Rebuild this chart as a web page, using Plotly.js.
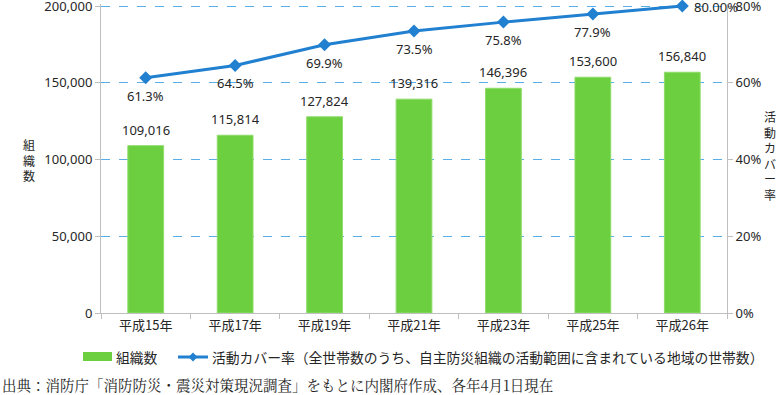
<!DOCTYPE html>
<html><head><meta charset="utf-8">
<script src="https://cdn.plot.ly/plotly-3.0.1.min.js"></script>
<style>html,body{margin:0;padding:0;background:#fff}#c{width:780px;height:395px}</style>
</head><body><div id="c"></div>
<script>
const categories = ['平成15年','平成17年','平成19年','平成21年','平成23年','平成25年','平成26年'];
const orgCounts = [109016, 115814, 127824, 139316, 146396, 153600, 156840];
const coverRate = [61.3, 64.5, 69.9, 73.5, 75.8, 77.9, 80.0];
const coverLabels = ['61.3%','64.5%','69.9%','73.5%','75.8%','77.9%','80.00%'];
const leftTickVals = [0, 50000, 100000, 150000, 200000];
const leftTickText = ['0','50,000','100,000','150,000','200,000'];
const rightTickVals = [0, 20, 40, 60, 80];
const rightTickText = ['0%','20%','40%','60%','80%'];
const legendBar = '組織数';
const legendLine = '活動カバー率（全世帯数のうち、自主防災組織の活動範囲に含まれている地域の世帯数）';
const leftTitle = '組<br>織<br>数';
const rightTitle = '活<br>動<br>カ<br>バ<br>ー<br>率';
const sourceText = '出典：消防庁「消防防災・震災対策現況調査」をもとに内閣府作成、各年4月1日現在';

const numFont = 'Noto Sans, Noto Sans CJK JP, sans-serif';
const cjkFont = 'Noto Sans CJK JP, sans-serif';
const txt = '#262626';
const barColor = '#6ccf40';
const lineColor = '#2180d0';

const L = 101, R = 727, T = 4, B = 313, W = R - L, H = B - T;
const px = x => (x - L) / W;
const py = y => (B - y) / H;
const topPad = H / (H - 2);   // keep the top grid line 2px inside the plot area

const traces = [
  {type:'bar', x:categories, y:orgCounts, marker:{color:barColor, line:{color:'#8fdc6a', width:1}},
   width:0.4, hoverinfo:'skip', showlegend:false},
  {type:'scatter', mode:'lines+markers', x:categories, y:coverRate, yaxis:'y2',
   line:{color:lineColor, width:3}, marker:{symbol:'diamond', size:10, color:lineColor},
   cliponaxis:false, showlegend:false}
];

const annotations = [];
orgCounts.forEach((v, i) => annotations.push({
  xref:'x', yref:'y', x:categories[i], y:v, text:v.toLocaleString('en-US'), showarrow:false,
  xanchor:'center', yanchor:'middle', yshift:16, font:{family:numFont, size:13, color:txt}}));
coverRate.forEach((v, i) => {
  const last = i === coverRate.length - 1;
  annotations.push({
    xref:'x', yref:'y2', x:categories[i], y:v, text:coverLabels[i], showarrow:false,
    xanchor: last ? 'left' : 'center', yanchor:'middle', xshift: last ? 10 : 0, yshift: last ? -1 : -18,
    font:{family:numFont, size:13, color:txt}});
});

const dx = 4.5 / W, dy = 4.5 / H;
const cx = px(193), cy = py(357);
annotations.push(
  {xref:'paper', yref:'paper', x:px(29), y:py(160), text:leftTitle, showarrow:false, xanchor:'center', yanchor:'middle',
    font:{family:cjkFont, size:12, color:txt}},
  {xref:'paper', yref:'paper', x:px(770), y:py(155), text:rightTitle, showarrow:false, xanchor:'center', yanchor:'middle',
    font:{family:cjkFont, size:12, color:txt}},
  {xref:'paper', yref:'paper', x:px(114), y:cy, text:legendBar, showarrow:false, xanchor:'left', yanchor:'middle',
    font:{family:cjkFont, size:13.8, color:txt}},
  {xref:'paper', yref:'paper', x:px(210), y:cy, text:legendLine, showarrow:false, xanchor:'left', yanchor:'middle',
    font:{family:cjkFont, size:13.8, color:txt}},
  {xref:'paper', yref:'paper', x:px(0), y:py(384), text:sourceText, showarrow:false, xanchor:'left', yanchor:'middle',
    font:{family:'Noto Serif CJK JP, DejaVu Serif, serif', size:14.5, color:txt}}
);

const layout = {
  width:780, height:395, margin:{l:L, r:780-R, t:T, b:395-B},
  paper_bgcolor:'#fff', plot_bgcolor:'#fff',
  showlegend:false,
  xaxis:{type:'category', range:[-0.5, categories.length - 0.5], showline:true, linecolor:'#bfbfbf', linewidth:1,
    ticks:'outside', tickson:'boundaries',
    ticklen:5, tickcolor:'#bfbfbf', tickfont:{family:cjkFont, size:13, color:txt}, showgrid:false, zeroline:false},
  yaxis:{range:[0, 200000 * topPad], tickmode:'array', tickvals:leftTickVals, ticktext:leftTickText, showline:true,
    linecolor:'#bfbfbf', linewidth:1, ticklabeloverflow:'allow',
    ticks:'outside', ticklen:5, tickcolor:'#bfbfbf', tickfont:{family:numFont, size:13, color:txt},
    showgrid:true, gridcolor:'#5aaee8', griddash:'dash', gridwidth:1, zeroline:false},
  yaxis2:{range:[0, 80 * topPad], tickmode:'array', tickvals:rightTickVals, ticktext:rightTickText, overlaying:'y', side:'right',
    showline:true, linecolor:'#bfbfbf', ticklabeloverflow:'allow',
    linewidth:1, ticks:'outside', ticklen:5, tickcolor:'#bfbfbf', tickfont:{family:numFont, size:13, color:txt},
    showgrid:false, zeroline:false},
  bargap:0.6,
  shapes:[
    {type:'rect', xref:'paper', yref:'paper', x0:px(83), x1:px(112), y0:py(361), y1:py(352), fillcolor:barColor, line:{width:0}},
    {type:'line', xref:'paper', yref:'paper', x0:px(178), x1:px(208), y0:cy, y1:cy, line:{color:lineColor, width:3}},
    {type:'path', xref:'paper', yref:'paper', path:`M ${cx-dx} ${cy} L ${cx} ${cy+dy} L ${cx+dx} ${cy} L ${cx} ${cy-dy} Z`, fillcolor:lineColor, line:{width:0}}
  ],
  annotations: annotations
};
Plotly.newPlot('c', traces, layout, {staticPlot:true, displayModeBar:false});
</script></body></html>
